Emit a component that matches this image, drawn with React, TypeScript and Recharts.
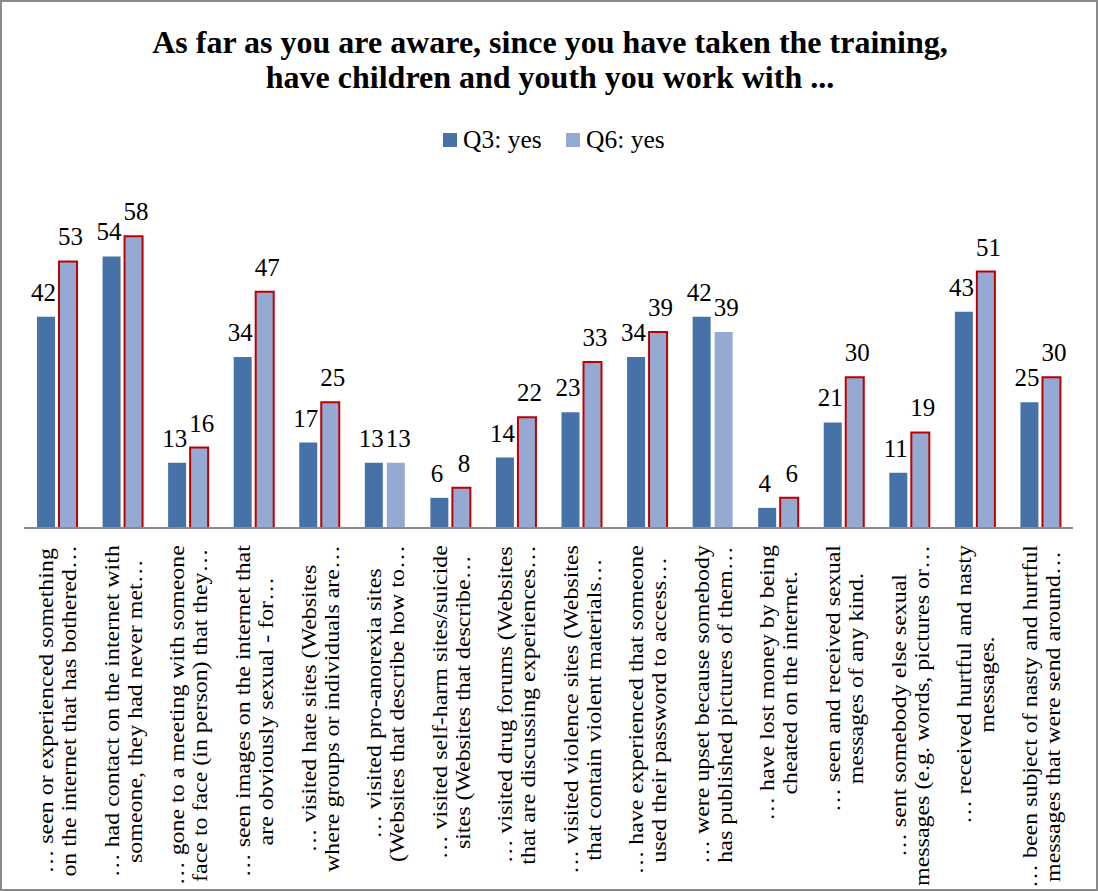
import { Bar, BarChart, Cell, LabelList, XAxis, YAxis } from 'recharts'

const categories = [
  '… seen or experienced something\non the internet that has bothered…',
  '… had contact on the internet with\nsomeone, they had never met…',
  '… gone to a meeting with someone\nface to face (in person) that they…',
  '… seen images on the internet that\nare obviously sexual - for…',
  '… visited hate sites (Websites\nwhere groups or individuals are…',
  '… visited pro-anorexia sites\n(Websites that describe how to…',
  '… visited self-harm sites/suicide\nsites (Websites that describe…',
  '… visited drug forums (Websites\nthat are discussing experiences…',
  '… visited violence sites (Websites\nthat contain violent materials…',
  '… have experienced that someone\nused their password to access…',
  '… were upset because somebody\nhas published pictures of them…',
  '… have lost money by being\ncheated on the internet.',
  '… seen and received sexual\nmessages of any kind.',
  '… sent somebody else sexual\nmessages (e.g. words, pictures or…',
  '… received hurtful and nasty\nmessages.',
  '… been subject of nasty and hurtful\nmessages that were send around…',
]

const q3Yes = [42, 54, 13, 34, 17, 13, 6, 14, 23, 34, 42, 4, 21, 11, 43, 25]
const q6Yes = [53, 58, 16, 47, 25, 13, 8, 22, 33, 39, 39, 6, 30, 19, 51, 30]

const seriesNames = ['Q3: yes', 'Q6: yes']
const titleLines = [
  'As far as you are aware, since you have taken the training,',
  'have children and youth you work with ...',
]

const data = categories.map((name, i) => ({ name, q3: q3Yes[i], q6: q6Yes[i] }))

const FONT = '"Liberation Serif", "Times New Roman", serif'
const Q3_COLOR = '#4672A8'
const Q6_COLOR = '#95AAD3'
const RED = '#C00000'
const LABEL_SIZE = 21
const STRETCH = 1.14
const LINE_GAP = 23

let ctx: CanvasRenderingContext2D | null = null
function measure(text: string) {
  if (!ctx) {
    ctx = document.createElement('canvas').getContext('2d')
    if (ctx) ctx.font = `${LABEL_SIZE}px "Liberation Serif"`
  }
  return ctx ? ctx.measureText(text).width : text.length * LABEL_SIZE * 0.45
}

function CategoryTick(props: any) {
  const { x, y, payload } = props
  const lines = String(payload.value).split('\n')
  const block = Math.max(...lines.map((l) => measure(l) * STRETCH))
  const along = 15 + block / 2
  return (
    <g transform={`translate(${x + 2},${y}) rotate(-90)`}>
      {lines.map((line, i) => (
        <text
          key={i}
          transform={`translate(${-along},${(i - (lines.length - 1) / 2) * LINE_GAP + 6}) scale(${STRETCH},1)`}
          textAnchor="middle"
          fontFamily={FONT}
          fontSize={LABEL_SIZE}
          fill="#000"
        >
          {line}
        </text>
      ))}
    </g>
  )
}

export default function App() {
  return (
    <div
      style={{
        position: 'absolute',
        left: 0,
        top: 0,
        width: 1098,
        height: 891,
        background: '#fff',
        border: '2px solid #8a8a8a',
        boxSizing: 'border-box',
      }}
    >
      <svg
        width={1098}
        height={891}
        style={{ position: 'absolute', left: -2, top: -2, pointerEvents: 'none' }}
      >
        {titleLines.map((t, i) => (
          <text
            key={t}
            x={550}
            y={53 + i * 35}
            textAnchor="middle"
            fontFamily={FONT}
            fontWeight="bold"
            fontSize={32}
            fill="#000"
          >
            {t}
          </text>
        ))}
        <rect x={443} y={133} width={14} height={14} fill={Q3_COLOR} />
        <text x={463} y={148} fontFamily={FONT} fontSize={25.5} fill="#000">
          {seriesNames[0]}
        </text>
        <rect x={566} y={133} width={14} height={14} fill={Q6_COLOR} />
        <text x={586} y={148} fontFamily={FONT} fontSize={25.5} fill="#000">
          {seriesNames[1]}
        </text>
      </svg>
      <div style={{ position: 'absolute', left: -2, top: -2 }}>
        <BarChart
          width={1098}
          height={891}
          data={data}
          margin={{ top: 176, right: 25, left: 24, bottom: 13 }}
          barSize={18}
          barGap={4}
        >
          <XAxis
            dataKey="name"
            interval={0}
            height={350}
            tickSize={0}
            tickLine={false}
            axisLine={{ stroke: '#8a8a8a', strokeWidth: 2 }}
            tick={<CategoryTick />}
          />
          <YAxis hide domain={[0, 70]} />
          <Bar dataKey="q3" name={seriesNames[0]} fill={Q3_COLOR} isAnimationActive={false}>
            <LabelList dataKey="q3" position="top" offset={16} dx={-2.5} fill="#000" fontSize={25} fontFamily={FONT} />
          </Bar>
          <Bar dataKey="q6" name={seriesNames[1]} fill={Q6_COLOR} isAnimationActive={false}>
            {data.map((d) => (
              <Cell
                key={d.name}
                stroke={d.q6 > d.q3 ? RED : 'none'}
                strokeWidth={d.q6 > d.q3 ? 2 : 0}
              />
            ))}
            <LabelList dataKey="q6" position="top" offset={16} dx={2.5} fill="#000" fontSize={25} fontFamily={FONT} />
          </Bar>
        </BarChart>
      </div>
    </div>
  )
}
